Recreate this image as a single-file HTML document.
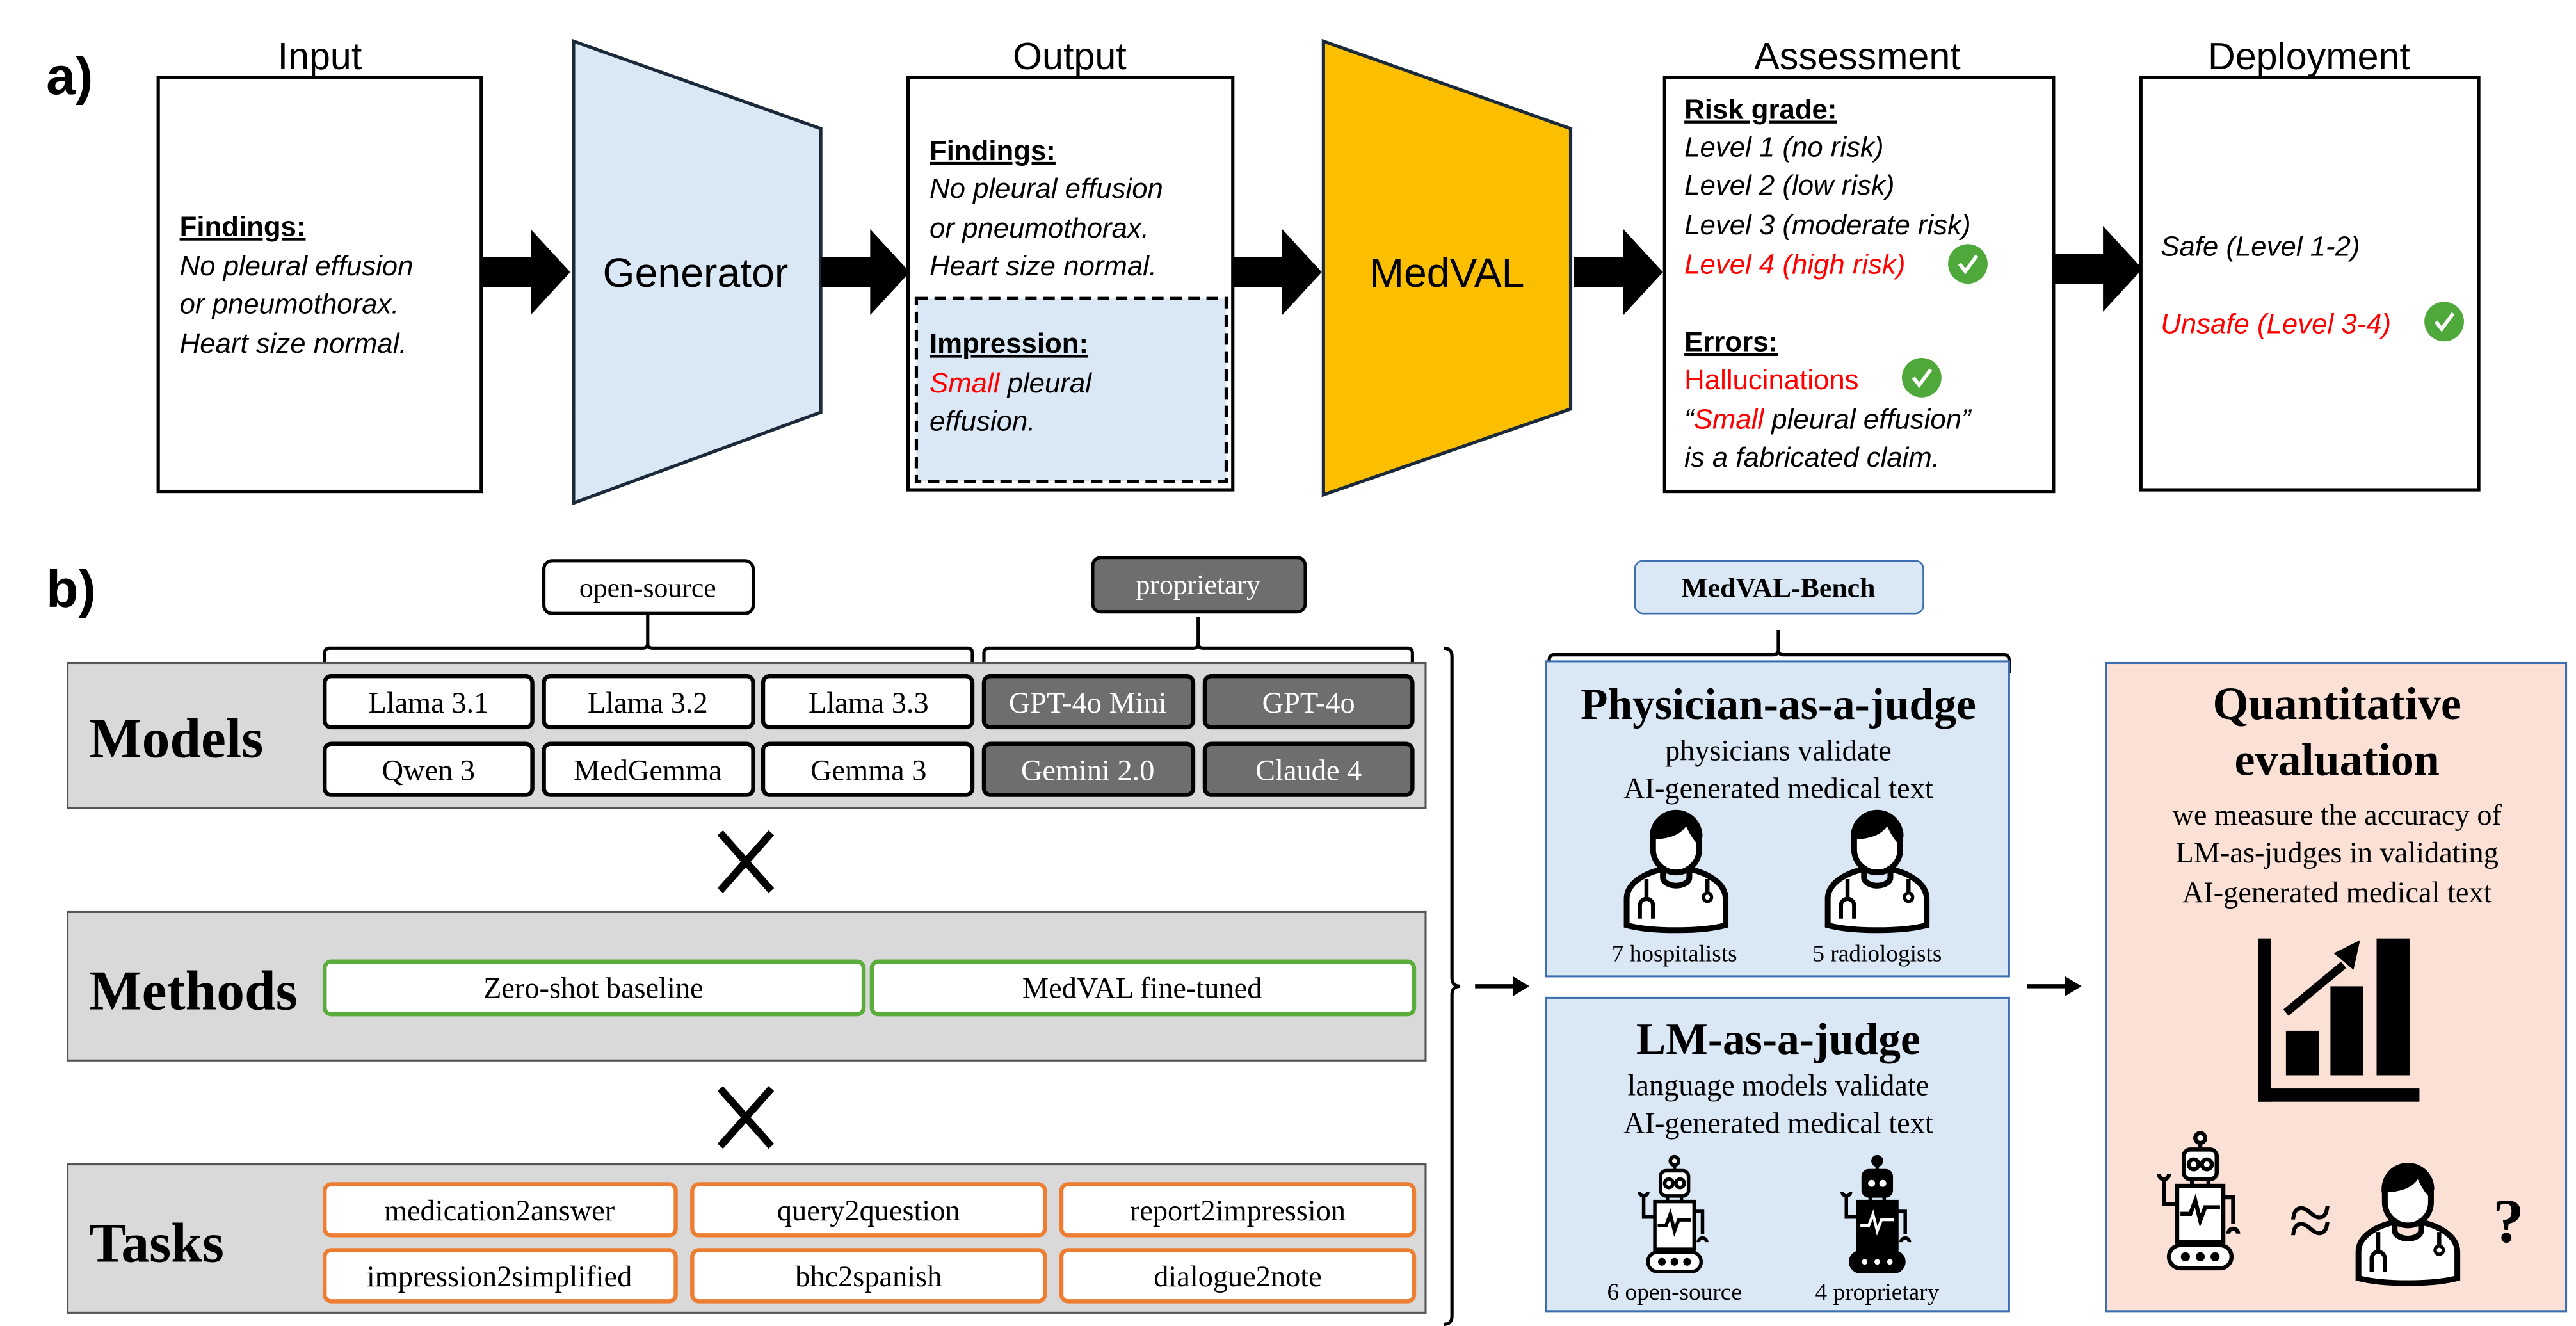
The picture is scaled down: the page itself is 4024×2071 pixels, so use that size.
<!DOCTYPE html>
<html><head><meta charset="utf-8"><style>
html,body{margin:0;padding:0;background:#fff;}
svg{display:block;}
.s{font-family:"Liberation Sans",sans-serif;}
.t{font-family:"Liberation Serif",serif;}
</style></head><body>
<svg width="4024" height="2071" viewBox="0 0 1563 804" preserveAspectRatio="none" xmlns="http://www.w3.org/2000/svg">
<defs>
<g id="arr"><path d="M0,-9 H30 V-26 L54,0 L30,26 V9 H0 Z" fill="#000"/></g>
<g id="chk"><circle r="12" fill="#4ea83a"/><path d="M-5,0 L-1.5,4.5 L5.5,-5" stroke="#fff" stroke-width="2.2" fill="none"/></g>
<g id="doc" fill="none" stroke="#000" stroke-width="3.5">
<path d="M-14,-18 a14,16 0 1,1 28,0 v6 a14,14 0 0,1 -28,0 Z" fill="#fff"/>
<path d="M-16,-20 a16,16 0 0,1 32,0 l-2,6 c-4,-4 -6,-8 -8,-12 c-4,6 -12,8 -22,8 Z" fill="#000" stroke="none"/>
<path d="M-30,34 V18 C-30,8 -18,2 -8,0 V5 a8,5 0 0,0 16,0 V0 C18,2 30,8 30,18 V34 C15,38 -15,38 -30,34 Z" fill="#fff"/>
<path d="M-18,6 v12 M-22,30 v-8 a4,4 0 0,1 8,0 v8" stroke-width="2.5"/>
<path d="M19,6 v8" stroke-width="2.5"/><circle cx="19" cy="17" r="2.5" stroke-width="2"/>
</g>
<g id="rob" fill="#fff" stroke="#000" stroke-width="2.5">
<circle cx="0" cy="-46" r="3"/><path d="M0,-43 v4"/>
<rect x="-10" y="-39" width="20" height="18" rx="4"/>
<circle cx="-4" cy="-30" r="3"/><circle cx="4" cy="-30" r="3"/>
<path d="M-5,-21 v4 M5,-21 v4"/>
<rect x="-14" y="-17" width="28" height="34"/>
<path d="M-12,0 h6 l3,-8 l3,12 l3,-8 h9" fill="none"/>
<path d="M-14,-6 h-8 v-14 M-25,-24 a3,3 0 0,0 6,0" fill="none"/>
<path d="M14,-10 h6 v16 M17,12 a3,3 0 0,1 6,0" fill="none"/>
<rect x="-19" y="19" width="38" height="14" rx="7"/>
<circle cx="-9" cy="26" r="1.5" fill="#000"/><circle cx="0" cy="26" r="1.5" fill="#000"/><circle cx="9" cy="26" r="1.5" fill="#000"/>
</g>
<g id="robd" fill="#000" stroke="#000" stroke-width="2.5">
<circle cx="0" cy="-46" r="3"/><path d="M0,-43 v4"/>
<rect x="-10" y="-39" width="20" height="18" rx="4"/>
<circle cx="-4" cy="-30" r="2.5" fill="#fff" stroke="none"/><circle cx="4" cy="-30" r="2.5" fill="#fff" stroke="none"/>
<path d="M-5,-21 v4 M5,-21 v4"/>
<rect x="-14" y="-17" width="28" height="34"/>
<path d="M-12,0 h6 l3,-8 l3,12 l3,-8 h9" fill="none" stroke="#fff" stroke-width="2"/>
<path d="M-14,-6 h-8 v-14 M-25,-24 a3,3 0 0,0 6,0" fill="none"/>
<path d="M14,-10 h6 v16 M17,12 a3,3 0 0,1 6,0" fill="none"/>
<rect x="-19" y="19" width="38" height="14" rx="7"/>
<circle cx="-9" cy="26" r="2" fill="#fff" stroke="none"/><circle cx="0" cy="26" r="2" fill="#fff" stroke="none"/><circle cx="9" cy="26" r="2" fill="#fff" stroke="none"/>
</g>
</defs>

<!-- PART A -->
<text x="28" y="57" class="s" font-size="32" font-weight="bold">a)</text>
<g class="s" font-size="23" text-anchor="middle">
<text x="194" y="42">Input</text><text x="649" y="42">Output</text>
<text x="1127" y="42">Assessment</text><text x="1401" y="42">Deployment</text>
</g>
<g fill="#fff" stroke="#000" stroke-width="2">
<rect x="96" y="47" width="196" height="251"/>
<rect x="551" y="47" width="197" height="250"/>
<rect x="1010" y="47" width="236" height="251"/>
<rect x="1299" y="47" width="205" height="250"/>
</g>
<path d="M348,25 L498,78 L498,250 L348,305 Z" fill="#dae8f6" stroke="#1a2a3a" stroke-width="2"/>
<path d="M803,25 L953,78 L953,248 L803,300 Z" fill="#fbbf00" stroke="#1a2a3a" stroke-width="2"/>
<text x="422" y="174" class="s" font-size="25" text-anchor="middle">Generator</text>
<text x="878" y="174" class="s" font-size="25" text-anchor="middle">MedVAL</text>
<use href="#arr" x="292" y="165"/><use href="#arr" x="498" y="165"/>
<use href="#arr" x="748" y="165"/><use href="#arr" x="955" y="165"/>
<use href="#arr" x="1246" y="163"/>
<rect x="556" y="181" width="188" height="111" fill="#dae8f6" stroke="#000" stroke-width="2" stroke-dasharray="7,4"/>
<g class="s" font-size="17">
<text x="109" y="143" font-weight="bold" text-decoration="underline">Findings:</text>
<text x="109" y="167" font-style="italic">No pleural effusion</text>
<text x="109" y="190" font-style="italic">or pneumothorax.</text>
<text x="109" y="214" font-style="italic">Heart size normal.</text>
<text x="564" y="97" font-weight="bold" text-decoration="underline">Findings:</text>
<text x="564" y="120" font-style="italic">No pleural effusion</text>
<text x="564" y="144" font-style="italic">or pneumothorax.</text>
<text x="564" y="167" font-style="italic">Heart size normal.</text>
<text x="564" y="214" font-weight="bold" text-decoration="underline">Impression:</text>
<text x="564" y="238" font-style="italic"><tspan fill="#f00">Small</tspan> pleural</text>
<text x="564" y="261" font-style="italic">effusion.</text>
<text x="1022" y="72" font-weight="bold" text-decoration="underline">Risk grade:</text>
<text x="1022" y="95" font-style="italic">Level 1 (no risk)</text>
<text x="1022" y="118" font-style="italic">Level 2 (low risk)</text>
<text x="1022" y="142" font-style="italic">Level 3 (moderate risk)</text>
<text x="1022" y="166" font-style="italic" fill="#f00">Level 4 (high risk)</text>
<text x="1022" y="213" font-weight="bold" text-decoration="underline">Errors:</text>
<text x="1022" y="236" fill="#f00">Hallucinations</text>
<text x="1022" y="260" font-style="italic">“<tspan fill="#f00">Small</tspan> pleural effusion”</text>
<text x="1022" y="283" font-style="italic">is a fabricated claim.</text>
<text x="1311" y="155" font-style="italic">Safe (Level 1-2)</text>
<text x="1311" y="202" font-style="italic" fill="#f00">Unsafe (Level 3-4)</text>
</g>
<use href="#chk" x="1194" y="160"/><use href="#chk" x="1166" y="229"/><use href="#chk" x="1483" y="195"/>

<!-- PART B -->
<text x="28" y="368" class="s" font-size="32" font-weight="bold">b)</text>
<g class="t" font-size="17" text-anchor="middle">
<rect x="330" y="340" width="127" height="32" rx="5" fill="#fff" stroke="#000" stroke-width="2"/>
<text x="393" y="362">open-source</text>
<rect x="663" y="338" width="129" height="33" rx="5" fill="#6e6e6e" stroke="#000" stroke-width="2"/>
<text x="727" y="360" fill="#fff">proprietary</text>
<rect x="992" y="340" width="175" height="32" rx="5" fill="#dae8f6" stroke="#3d6fb0" stroke-width="1"/>
<text x="1079" y="362" font-weight="bold">MedVAL-Bench</text>
</g>
<g fill="none" stroke="#000" stroke-width="2">
<path d="M197,404 v-8 q0,-3 3,-3 H390 q3,0 3,-3 v-17 M393,390 q0,3 3,3 H587 q3,0 3,3 v8"/>
<path d="M597,404 v-8 q0,-3 3,-3 H724 q3,0 3,-3 v-16 M727,390 q0,3 3,3 H854 q3,0 3,3 v8"/>
<path d="M940,408 v-8 q0,-3 3,-3 H1076 q3,0 3,-3 v-12 M1079,394 q0,3 3,3 H1216 q3,0 3,3 v8"/>
<path d="M876,393 q5,0 5,5 V593 q0,5 5,5 q-5,0 -5,5 V798 q0,5 -5,5"/>
</g>
<g fill="#d9d9d9" stroke="#555" stroke-width="1.2">
<rect x="41" y="402" width="824" height="88"/>
<rect x="41" y="553" width="824" height="90"/>
<rect x="41" y="706" width="824" height="90"/>
</g>
<g class="t" font-weight="bold" font-size="34">
<text x="54" y="459">Models</text><text x="54" y="612">Methods</text><text x="54" y="765">Tasks</text>
</g>
<g class="t" font-size="18" text-anchor="middle">
<g fill="#fff" stroke="#000" stroke-width="2.5">
<rect x="197" y="410" width="126" height="31" rx="4"/><rect x="330" y="410" width="127" height="31" rx="4"/><rect x="463" y="410" width="127" height="31" rx="4"/>
<rect x="197" y="451" width="126" height="31" rx="4"/><rect x="330" y="451" width="127" height="31" rx="4"/><rect x="463" y="451" width="127" height="31" rx="4"/>
</g>
<g fill="#6e6e6e" stroke="#000" stroke-width="2.5">
<rect x="597" y="410" width="127" height="31" rx="4"/><rect x="731" y="410" width="126" height="31" rx="4"/>
<rect x="597" y="451" width="127" height="31" rx="4"/><rect x="731" y="451" width="126" height="31" rx="4"/>
</g>
<text x="260" y="432">Llama 3.1</text><text x="393" y="432">Llama 3.2</text><text x="527" y="432">Llama 3.3</text>
<text x="260" y="473">Qwen 3</text><text x="393" y="473">MedGemma</text><text x="527" y="473">Gemma 3</text>
<g fill="#fff"><text x="660" y="432">GPT-4o Mini</text><text x="794" y="432">GPT-4o</text>
<text x="660" y="473">Gemini 2.0</text><text x="794" y="473">Claude 4</text></g>
<g fill="#fff" stroke="#5aad3a" stroke-width="2.5">
<rect x="197" y="583" width="327" height="32" rx="4"/><rect x="529" y="583" width="329" height="32" rx="4"/>
</g>
<text x="360" y="605">Zero-shot baseline</text><text x="693" y="605">MedVAL fine-tuned</text>
<g fill="#fff" stroke="#ed7d31" stroke-width="2.5">
<rect x="197" y="718" width="213" height="31" rx="4"/><rect x="420" y="718" width="214" height="31" rx="4"/><rect x="644" y="718" width="214" height="31" rx="4"/>
<rect x="197" y="758" width="213" height="31" rx="4"/><rect x="420" y="758" width="214" height="31" rx="4"/><rect x="644" y="758" width="214" height="31" rx="4"/>
</g>
<text x="303" y="740">medication2answer</text><text x="527" y="740">query2question</text><text x="751" y="740">report2impression</text>
<text x="303" y="780">impression2simplified</text><text x="527" y="780">bhc2spanish</text><text x="751" y="780">dialogue2note</text>
</g>
<g stroke="#000" stroke-width="4.5"><path d="M437,505 L468,540 M468,505 L437,540"/><path d="M437,660 L468,695 M468,660 L437,695"/></g>
<path d="M895,598 H920" stroke="#000" stroke-width="2.5"/><path d="M918,592 L928,598 L918,604 Z"/>
<path d="M1230,598 H1256" stroke="#000" stroke-width="2.5"/><path d="M1253,592 L1263,598 L1253,604 Z"/>
<rect x="938" y="401" width="281" height="191" fill="#dae8f6" stroke="#3d6fb0" stroke-width="1.2"/>
<rect x="938" y="605" width="281" height="190" fill="#dae8f6" stroke="#3d6fb0" stroke-width="1.2"/>
<rect x="1278" y="402" width="279" height="393" fill="#fbe1d5" stroke="#3d6fb0" stroke-width="1.2"/>
<g class="t" text-anchor="middle">
<text x="1079" y="436" font-size="27" font-weight="bold">Physician-as-a-judge</text>
<text x="1079" y="461" font-size="18">physicians validate</text>
<text x="1079" y="484" font-size="18">AI-generated medical text</text>
<text x="1016" y="583" font-size="14.5">7 hospitalists</text>
<text x="1139" y="583" font-size="14.5">5 radiologists</text>
<text x="1079" y="639" font-size="27" font-weight="bold">LM-as-a-judge</text>
<text x="1079" y="664" font-size="18">language models validate</text>
<text x="1079" y="687" font-size="18">AI-generated medical text</text>
<text x="1016" y="788" font-size="14.5">6 open-source</text>
<text x="1139" y="788" font-size="14.5">4 proprietary</text>
<text x="1418" y="436" font-size="28" font-weight="bold">Quantitative</text>
<text x="1418" y="470" font-size="28" font-weight="bold">evaluation</text>
<text x="1418" y="500" font-size="18">we measure the accuracy of</text>
<text x="1418" y="523" font-size="18">LM-as-judges in validating</text>
<text x="1418" y="547" font-size="18">AI-generated medical text</text>
<text x="1402" y="756" font-size="48">≈</text>
<text x="1522" y="753" font-size="38" font-weight="bold">?</text>
</g>
<use href="#doc" x="1017" y="527"/><use href="#doc" x="1139" y="527"/>
<use href="#doc" x="1461" y="741"/>
<g transform="translate(1016,743) scale(0.85)"><use href="#rob"/></g>
<g transform="translate(1139,743) scale(0.85)"><use href="#robd"/></g>
<use href="#rob" x="1335" y="736"/>
<g fill="#000">
<rect x="1370" y="569" width="8" height="99"/><rect x="1370" y="660" width="98" height="8"/>
<rect x="1387" y="625" width="20" height="27"/><rect x="1414" y="598" width="20" height="54"/><rect x="1442" y="569" width="20" height="83"/>
<path d="M1387,614 L1422,585" stroke="#000" stroke-width="5"/><path d="M1416,578 L1432,570 L1428,588 Z"/>
</g>
</svg>
</body></html>
